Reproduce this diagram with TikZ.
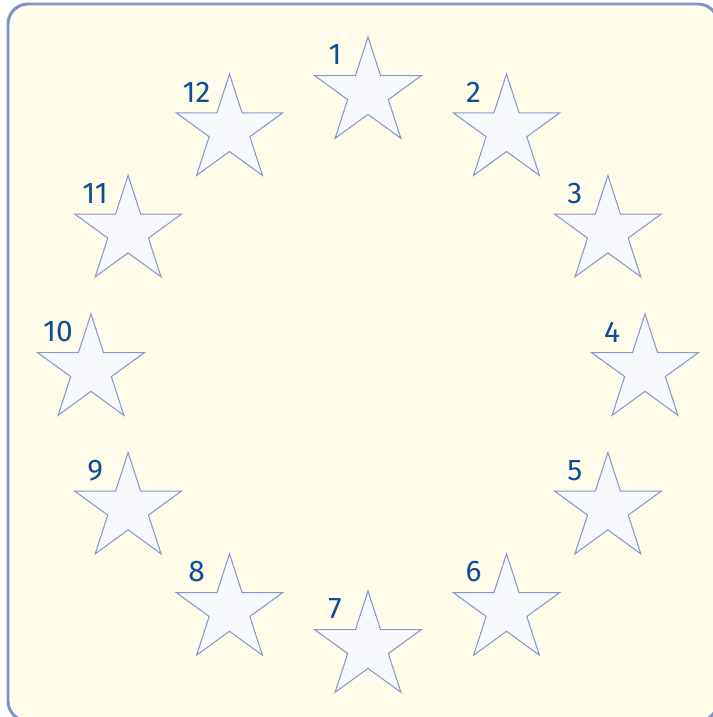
\documentclass[tikz,border=0pt]{standalone}
\usepackage{fontspec}
\newfontfamily\numfont{Fira Sans}
\usetikzlibrary{shapes.geometric,calc}
\definecolor{paper}{HTML}{FFFCE9}
\definecolor{frame}{HTML}{7F92CA}
\definecolor{starfill}{HTML}{F8F9FD}
\definecolor{starline}{HTML}{8797D0}
\definecolor{numblue}{HTML}{0E4E96}

\begin{document}
\begin{tikzpicture}[
  eustar/.style={star, star points=5, star point ratio=2.618,
                 draw=starline, fill=starfill, line width=0.6pt,
                 minimum size=2.24cm, inner sep=0pt},
  num/.style={text=numblue, font=\numfont\fontsize{17}{20}\selectfont,
              inner sep=0pt}]
\useasboundingbox (0,0) rectangle (14.26,14.34);
\clip (0,0) rectangle (14.26,14.34);
\draw[frame, fill=paper, line width=1.7pt, rounded corners=0.4cm]
  (0.16,-0.08) rectangle (14.36,14.26);
\coordinate (mid) at (7.36,6.94);
% twelve stars round the circle
\foreach \n in {1,...,12}{
  \node[eustar] (star\n) at ($(mid)+({90-30*(\n-1)}:5.54)$) {};
  \node[num] (lab\n) at ([shift={(-0.66,0.76)}]star\n.center) {\n};
}
\end{tikzpicture}
\end{document}
